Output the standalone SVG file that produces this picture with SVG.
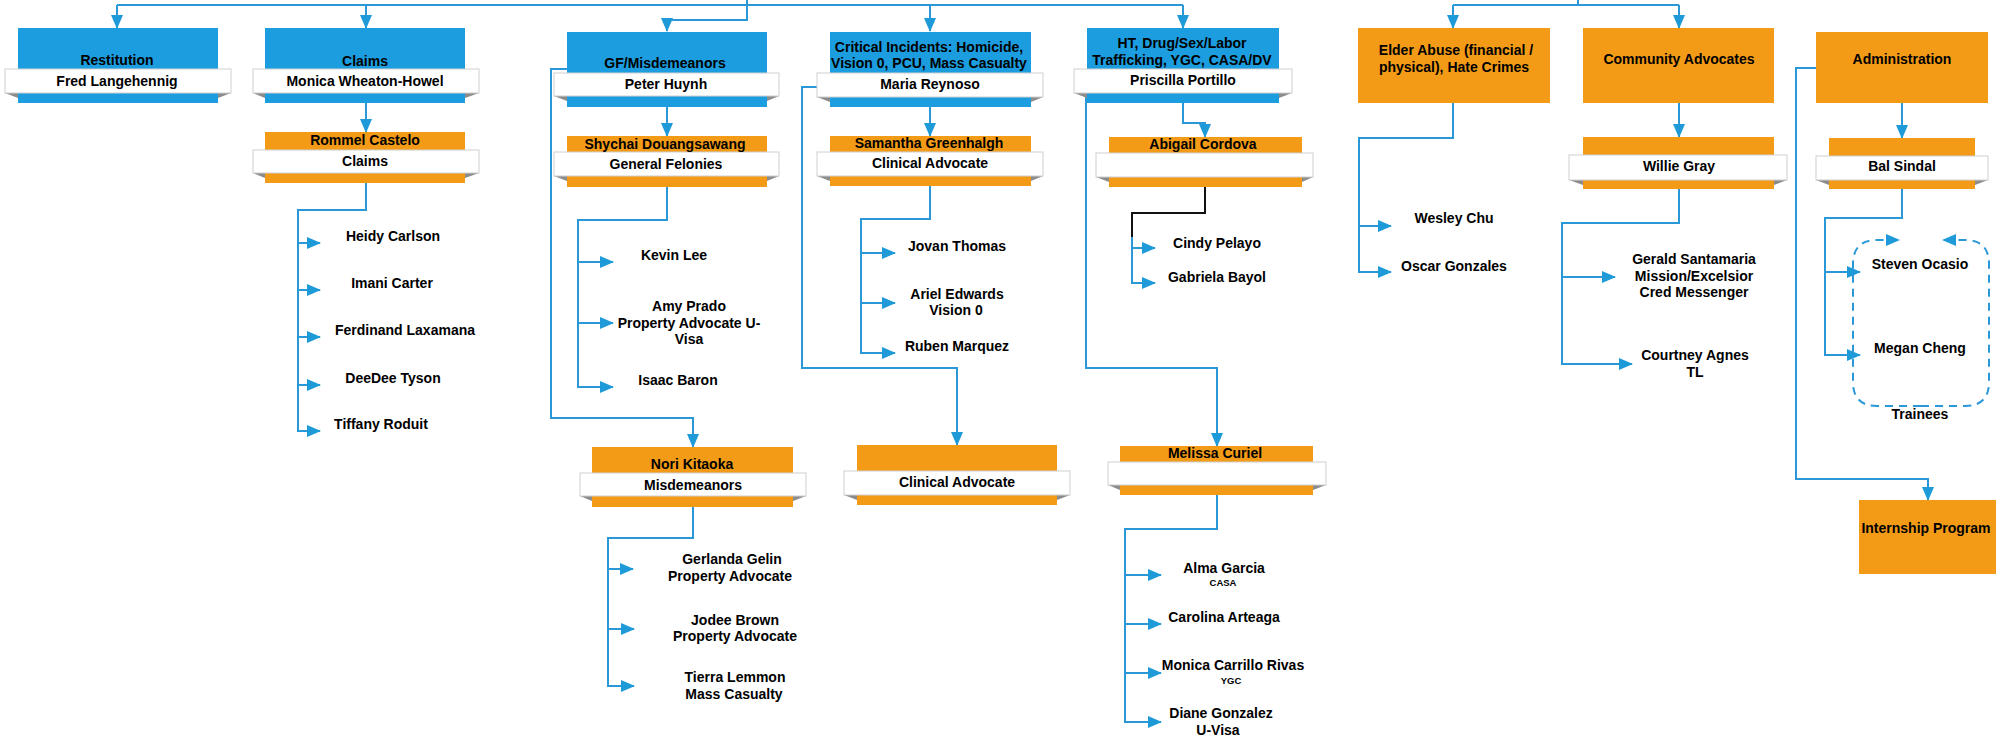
<svg xmlns="http://www.w3.org/2000/svg" width="1996" height="744" viewBox="0 0 1996 744">
<defs>
<style>
.bl{fill:#1c9ddf}
.or{fill:#f39b17}
.band{fill:#ffffff;stroke:#cfcfcf;stroke-width:1}
.fold{fill:#8c8c8c}
.t{font-family:"Liberation Sans",Arial,sans-serif;font-weight:bold;font-size:14px;text-anchor:middle;fill:#000}
.p{font-family:"Liberation Sans",Arial,sans-serif;font-weight:bold;font-size:14px;text-anchor:middle;fill:#000}
.s{font-family:"Liberation Sans",Arial,sans-serif;font-weight:bold;font-size:9.5px;text-anchor:middle;fill:#000}
.c{fill:none;stroke:#2a98d6;stroke-width:2}
.k{fill:none;stroke:#111;stroke-width:2}
.d{fill:none;stroke:#2a98d6;stroke-width:2;stroke-dasharray:8 6}
</style>
<marker id="ah" viewBox="0 0 14 12" refX="13" refY="6" markerWidth="14" markerHeight="12" markerUnits="userSpaceOnUse" orient="auto">
<path d="M0,0 L14,6 L0,12 z" fill="#1f9ad9"/>
</marker>
</defs>
<rect width="1996" height="744" fill="#ffffff"/>

<g id="connectors">
<path class="c" d="M117,5 H1183"/>
<path class="c" d="M117,5 V28" marker-end="url(#ah)"/>
<path class="c" d="M366,5 V28" marker-end="url(#ah)"/>
<path class="c" d="M930,5 V31" marker-end="url(#ah)"/>
<path class="c" d="M1183,5 V28" marker-end="url(#ah)"/>
<path class="c" d="M747,0 V20 H667 V31" marker-end="url(#ah)"/>
<path class="c" d="M1578,0 V5"/>
<path class="c" d="M1453,5 H1679"/>
<path class="c" d="M1453,5 V28" marker-end="url(#ah)"/>
<path class="c" d="M1679,5 V28" marker-end="url(#ah)"/>

<path class="c" d="M366,103 V132" marker-end="url(#ah)"/>
<path class="c" d="M366,183 V210 H298 V431 H320" marker-end="url(#ah)"/>
<path class="c" d="M298,243 H320" marker-end="url(#ah)"/>
<path class="c" d="M298,290 H320" marker-end="url(#ah)"/>
<path class="c" d="M298,337 H320" marker-end="url(#ah)"/>
<path class="c" d="M298,385 H320" marker-end="url(#ah)"/>

<path class="c" d="M667,107 V136" marker-end="url(#ah)"/>
<path class="c" d="M567,69 H551 V418 H693 V447" marker-end="url(#ah)"/>
<path class="c" d="M667,187 V220 H578 V387 H613" marker-end="url(#ah)"/>
<path class="c" d="M578,262 H613" marker-end="url(#ah)"/>
<path class="c" d="M578,323 H613" marker-end="url(#ah)"/>
<path class="c" d="M693,507 V538 H608 V686 H634" marker-end="url(#ah)"/>
<path class="c" d="M608,569 H633" marker-end="url(#ah)"/>
<path class="c" d="M608,629 H634" marker-end="url(#ah)"/>

<path class="c" d="M930,107 V136" marker-end="url(#ah)"/>
<path class="c" d="M930,186 V219 H861 V353 H895" marker-end="url(#ah)"/>
<path class="c" d="M861,253 H895" marker-end="url(#ah)"/>
<path class="c" d="M861,303 H895" marker-end="url(#ah)"/>
<path class="c" d="M817,87 H802 V368 H957 V445" marker-end="url(#ah)"/>

<path class="c" d="M1183,103 V123 H1205 V137" marker-end="url(#ah)"/>
<path class="k" d="M1205,187 V213 H1132 V237"/>
<path class="c" d="M1132,237 V283 H1155" marker-end="url(#ah)"/>
<path class="c" d="M1132,248 H1155" marker-end="url(#ah)"/>
<path class="c" d="M1086,95 V368 H1217 V446" marker-end="url(#ah)"/>
<path class="c" d="M1217,495 V529 H1125 V722 H1161" marker-end="url(#ah)"/>
<path class="c" d="M1125,575 H1161" marker-end="url(#ah)"/>
<path class="c" d="M1125,624 H1161" marker-end="url(#ah)"/>
<path class="c" d="M1125,673 H1161" marker-end="url(#ah)"/>

<path class="c" d="M1453,103 V138 H1359 V272 H1391" marker-end="url(#ah)"/>
<path class="c" d="M1359,226 H1391" marker-end="url(#ah)"/>

<path class="c" d="M1679,103 V137" marker-end="url(#ah)"/>
<path class="c" d="M1679,189 V223 H1562 V364 H1632" marker-end="url(#ah)"/>
<path class="c" d="M1562,277 H1615" marker-end="url(#ah)"/>

<path class="c" d="M1816,68 H1796 V479 H1928 V500" marker-end="url(#ah)"/>
<path class="c" d="M1902,103 V138" marker-end="url(#ah)"/>
<path class="c" d="M1902,189 V218 H1825 V355 H1860" marker-end="url(#ah)"/>
<path class="c" d="M1825,272 H1860" marker-end="url(#ah)"/>

<path class="d" d="M1921,406 H1877 Q1853,406 1853,382 V264 Q1853,240 1877,240 H1899" marker-end="url(#ah)"/>
<path class="d" d="M1921,406 H1965 Q1989,406 1989,382 V264 Q1989,240 1965,240 H1943" marker-end="url(#ah)"/>
</g>

<g id="restitution">
<rect class="bl" x="18" y="28" width="200" height="75"/>
<polygon class="fold" points="5,93 18,93 18,98"/><polygon class="fold" points="231,93 218,93 218,98"/>
<rect class="band" x="5" y="69" width="226" height="24"/>
<text class="t" x="117" y="65">Restitution</text>
<text class="t" x="117" y="86">Fred Langehennig</text>
</g>

<g id="claims">
<rect class="bl" x="265" y="28" width="200" height="75"/>
<polygon class="fold" points="253,93 265,93 265,98"/><polygon class="fold" points="479,93 465,93 465,98"/>
<rect class="band" x="253" y="69" width="226" height="24"/>
<text class="t" x="365" y="66">Claims</text>
<text class="t" x="365" y="86">Monica Wheaton-Howel</text>
</g>

<g id="rommel">
<rect class="or" x="265" y="132" width="200" height="51"/>
<polygon class="fold" points="253,173 265,173 265,178"/><polygon class="fold" points="479,173 465,173 465,178"/>
<rect class="band" x="253" y="150" width="226" height="23"/>
<text class="t" x="365" y="145">Rommel Castelo</text>
<text class="t" x="365" y="166">Claims</text>
</g>

<g id="claims-staff">
<text class="p" x="393" y="241">Heidy Carlson</text>
<text class="p" x="392" y="288">Imani Carter</text>
<text class="p" x="405" y="335">Ferdinand Laxamana</text>
<text class="p" x="393" y="383">DeeDee Tyson</text>
<text class="p" x="381" y="429">Tiffany Roduit</text>
</g>

<g id="gf">
<rect class="bl" x="567" y="32" width="200" height="75"/>
<polygon class="fold" points="554,96 567,96 567,101"/><polygon class="fold" points="779,96 767,96 767,101"/>
<rect class="band" x="554" y="73" width="225" height="23"/>
<text class="t" x="665" y="68">GF/Misdemeanors</text>
<text class="t" x="666" y="89">Peter Huynh</text>
</g>

<g id="shychai">
<rect class="or" x="567" y="136" width="200" height="51"/>
<polygon class="fold" points="554,176 567,176 567,181"/><polygon class="fold" points="779,176 767,176 767,181"/>
<rect class="band" x="554" y="152" width="225" height="24"/>
<text class="t" x="665" y="149">Shychai Douangsawang</text>
<text class="t" x="666" y="169">General Felonies</text>
</g>

<g id="gf-staff">
<text class="p" x="674" y="260">Kevin Lee</text>
<text class="p" x="689" y="311">Amy Prado</text>
<text class="p" x="689" y="328">Property Advocate U-</text>
<text class="p" x="689" y="344">Visa</text>
<text class="p" x="678" y="385">Isaac Baron</text>
</g>

<g id="nori">
<rect class="or" x="592" y="447" width="201" height="60"/>
<polygon class="fold" points="580,496 592,496 592,501"/><polygon class="fold" points="806,496 793,496 793,501"/>
<rect class="band" x="580" y="473" width="226" height="23"/>
<text class="t" x="692" y="469">Nori Kitaoka</text>
<text class="t" x="693" y="490">Misdemeanors</text>
</g>

<g id="misd-staff">
<text class="p" x="732" y="564">Gerlanda Gelin</text>
<text class="p" x="730" y="581">Property Advocate</text>
<text class="p" x="735" y="625">Jodee Brown</text>
<text class="p" x="735" y="641">Property Advocate</text>
<text class="p" x="735" y="682">Tierra Lemmon</text>
<text class="p" x="734" y="699">Mass Casualty</text>
</g>

<g id="critical">
<rect class="bl" x="830" y="32" width="201" height="75"/>
<polygon class="fold" points="817,97 830,97 830,102"/><polygon class="fold" points="1043,97 1031,97 1031,102"/>
<rect class="band" x="817" y="73" width="226" height="24"/>
<text class="t" x="929" y="52">Critical Incidents: Homicide,</text>
<text class="t" x="929" y="68">Vision 0, PCU, Mass Casualty</text>
<text class="t" x="930" y="89">Maria Reynoso</text>
</g>

<g id="samantha">
<rect class="or" x="830" y="136" width="201" height="50"/>
<polygon class="fold" points="817,176 830,176 830,181"/><polygon class="fold" points="1043,176 1031,176 1031,181"/>
<rect class="band" x="817" y="152" width="226" height="24"/>
<text class="t" x="929" y="148">Samantha Greenhalgh</text>
<text class="t" x="930" y="168">Clinical Advocate</text>
</g>

<g id="critical-staff">
<text class="p" x="957" y="251">Jovan Thomas</text>
<text class="p" x="957" y="299">Ariel Edwards</text>
<text class="p" x="956" y="315">Vision 0</text>
<text class="p" x="957" y="351">Ruben Marquez</text>
</g>

<g id="clinical-advocate">
<rect class="or" x="857" y="445" width="200" height="60"/>
<polygon class="fold" points="844,495 857,495 857,500"/><polygon class="fold" points="1070,495 1057,495 1057,500"/>
<rect class="band" x="844" y="471" width="226" height="24"/>
<text class="t" x="957" y="487">Clinical Advocate</text>
</g>

<g id="ht">
<rect class="bl" x="1087" y="28" width="192" height="75"/>
<polygon class="fold" points="1074,93 1087,93 1087,98"/><polygon class="fold" points="1292,93 1279,93 1279,98"/>
<rect class="band" x="1074" y="69" width="218" height="24"/>
<text class="t" x="1182" y="48">HT, Drug/Sex/Labor</text>
<text class="t" x="1182" y="65">Trafficking, YGC, CASA/DV</text>
<text class="t" x="1183" y="85">Priscilla Portillo</text>
</g>

<g id="abigail">
<rect class="or" x="1109" y="137" width="193" height="50"/>
<polygon class="fold" points="1096,177 1109,177 1109,182"/><polygon class="fold" points="1313,177 1302,177 1302,182"/>
<rect class="band" x="1096" y="153" width="217" height="24"/>
<text class="t" x="1203" y="149">Abigail Cordova</text>
</g>

<g id="abigail-staff">
<text class="p" x="1217" y="248">Cindy Pelayo</text>
<text class="p" x="1217" y="282">Gabriela Bayol</text>
</g>

<g id="melissa">
<rect class="or" x="1120" y="446" width="193" height="49"/>
<polygon class="fold" points="1108,485 1120,485 1120,490"/><polygon class="fold" points="1326,485 1313,485 1313,490"/>
<rect class="band" x="1108" y="462" width="218" height="23"/>
<text class="t" x="1215" y="458">Melissa Curiel</text>
</g>

<g id="melissa-staff">
<text class="p" x="1224" y="573">Alma Garcia</text>
<text class="s" x="1223" y="586">CASA</text>
<text class="p" x="1224" y="622">Carolina Arteaga</text>
<text class="p" x="1233" y="670">Monica Carrillo Rivas</text>
<text class="s" x="1231" y="684">YGC</text>
<text class="p" x="1221" y="718">Diane Gonzalez</text>
<text class="p" x="1218" y="735">U-Visa</text>
</g>

<g id="elder-abuse">
<rect class="or" x="1358" y="28" width="192" height="75"/>
<text class="t" x="1456" y="55">Elder Abuse (financial /</text>
<text class="t" x="1454" y="72">physical), Hate Crimes</text>
</g>

<g id="elder-staff">
<text class="p" x="1454" y="223">Wesley Chu</text>
<text class="p" x="1454" y="271">Oscar Gonzales</text>
</g>

<g id="community-advocates">
<rect class="or" x="1583" y="28" width="191" height="75"/>
<text class="t" x="1679" y="64">Community Advocates</text>
</g>

<g id="willie">
<rect class="or" x="1583" y="137" width="191" height="52"/>
<polygon class="fold" points="1569,180 1583,180 1583,185"/><polygon class="fold" points="1787,180 1774,180 1774,185"/>
<rect class="band" x="1569" y="155" width="218" height="25"/>
<text class="t" x="1679" y="171">Willie Gray</text>
</g>

<g id="willie-staff">
<text class="p" x="1694" y="264">Gerald Santamaria</text>
<text class="p" x="1694" y="281">Mission/Excelsior</text>
<text class="p" x="1694" y="297">Cred Messenger</text>
<text class="p" x="1695" y="360">Courtney Agnes</text>
<text class="p" x="1695" y="377">TL</text>
</g>

<g id="administration">
<rect class="or" x="1816" y="32" width="172" height="71"/>
<text class="t" x="1902" y="64">Administration</text>
</g>

<g id="bal">
<rect class="or" x="1829" y="138" width="146" height="51"/>
<polygon class="fold" points="1816,180 1829,180 1829,185"/><polygon class="fold" points="1988,180 1975,180 1975,185"/>
<rect class="band" x="1816" y="156" width="172" height="24"/>
<text class="t" x="1902" y="171">Bal Sindal</text>
</g>

<g id="trainees">
<text class="p" x="1920" y="269">Steven Ocasio</text>
<text class="p" x="1920" y="353">Megan Cheng</text>
<text class="p" x="1920" y="419">Trainees</text>
</g>

<g id="internship">
<rect class="or" x="1859" y="500" width="137" height="74"/>
<text class="t" x="1926" y="533">Internship Program</text>
</g>
</svg>
